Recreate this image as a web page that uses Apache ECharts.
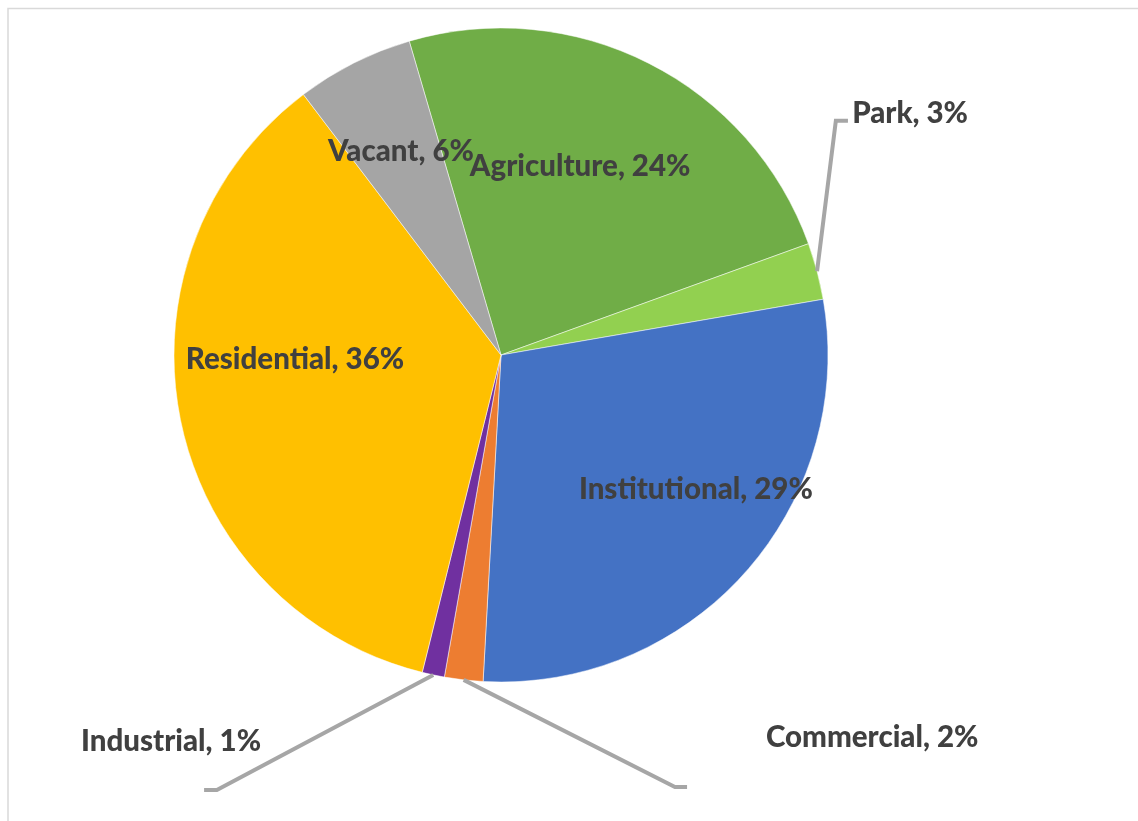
<!DOCTYPE html>
<html>
<head>
<meta charset="utf-8">
<script src="https://cdn.jsdelivr.net/npm/echarts@6/dist/echarts.min.js"></script>
<style>
  html, body { margin: 0; padding: 0; background: #fff; }
  #chart { width: 1138px; height: 821px; }
</style>
</head>
<body>
<div id="chart"></div>
<script>
// Data (clockwise order)
const categories = ['Agriculture', 'Park', 'Institutional', 'Commercial', 'Industrial', 'Residential', 'Vacant'];
const values = [24.0, 2.8, 28.6, 1.9, 1.1, 35.8, 5.8];
const colors = ['#70AD47', '#92D050', '#4472C4', '#ED7D31', '#7030A0', '#FFC000', '#A5A5A5'];

// Layout (pixels / fractions of radius)
const CX = 501, CY = 355, R = 327, START = 106.3;
// label centre offsets, as fractions of radius from pie centre
const labelPos = [
  [0.242, -0.575],  // Agriculture
  [1.251, -0.740],  // Park
  [0.596, 0.410],   // Institutional
  [1.135, 1.171],   // Commercial
  [-1.009, 1.183],  // Industrial
  [-0.630, 0.015],  // Residential
  [-0.306, -0.621]  // Vacant
];
// leader line elbow / end points (fractions of radius), null = no leader line
const leader = [
  null,
  [[1.024, -0.716], [1.061, -0.716]],
  null,
  [[0.532, 1.321], [0.569, 1.321]],
  [[-0.869, 1.330], [-0.908, 1.330]],
  null,
  null
];

const total = values.reduce((a, b) => a + b, 0);
const chart = echarts.init(document.getElementById('chart'));

const LINE_COLOR = '#A6A6A6', LINE_WIDTH = 4;

// leader lines: start on the slice edge at the slice's mid-angle (from the data)
const leaderGraphics = [];
let cum = 0;
values.forEach(function (v, i) {
  const midDeg = START - (cum + v / 2) / total * 360;
  cum += v;
  if (!leader[i]) return;
  const a = midDeg * Math.PI / 180;
  const p0 = [CX + R * Math.cos(a), CY - R * Math.sin(a)];
  leaderGraphics.push({
    type: 'polyline',
    silent: true,
    z: 10,
    shape: {
      points: [
        p0,
        [CX + leader[i][0][0] * R, CY + leader[i][0][1] * R],
        [CX + leader[i][1][0] * R, CY + leader[i][1][1] * R]
      ]
    },
    style: { stroke: LINE_COLOR, lineWidth: LINE_WIDTH, fill: null, lineJoin: 'miter' }
  });
});

const data = categories.map((name, i) => ({
  name: name,
  value: values[i],
  itemStyle: { color: colors[i] }
}));

chart.setOption({
  animation: false,
  backgroundColor: '#ffffff',
  graphic: [{
    type: 'rect',
    silent: true,
    shape: { x: 8, y: 8.5, width: 1200, height: 900 },
    style: { fill: 'none', stroke: '#D9D9D9', lineWidth: 1.5 }
  }].concat(leaderGraphics),
  series: [{
    type: 'pie',
    center: [CX, CY],
    radius: R,
    startAngle: START,
    clockwise: true,
    avoidLabelOverlap: false,
    itemStyle: { borderColor: '#ffffff', borderWidth: 0.5 },
    label: {
      show: true,
      position: 'inside',
      color: '#404040',
      fontFamily: 'Lato',
      fontWeight: 900,
      fontSize: 29.5,
      formatter: p => p.name + ', ' + Math.round(p.value / total * 100) + '%'
    },
    labelLine: { show: false },
    labelLayout: function (params) {
      const lp = labelPos[params.dataIndex];
      return {
        x: CX + lp[0] * R,
        y: CY + lp[1] * R,
        align: 'center',
        verticalAlign: 'middle'
      };
    },
    data: data
  }]
});
</script>
</body>
</html>
